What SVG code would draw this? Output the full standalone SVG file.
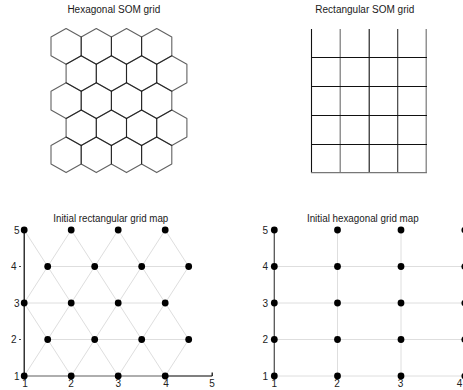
<svg xmlns="http://www.w3.org/2000/svg" xmlns:xlink="http://www.w3.org/1999/xlink" width="463" height="390" viewBox="0 0 463 390">
<style>
  .title { font-family: "Liberation Sans", Arial, sans-serif; font-size: 10px; fill: #1a1a1a; text-anchor: middle; }
  .tick { font-family: "Liberation Sans", Arial, sans-serif; font-size: 10px; fill: #222; }
  .xl { text-anchor: middle; }
  .yl { text-anchor: end; }
  .hex { fill: none; stroke: #000; stroke-opacity: 0.62; stroke-width: 1.1; stroke-linejoin: round; }
  .gk { stroke: #111; stroke-width: 1.1; }
  .gg { stroke: #777; stroke-width: 1.2; }
  .nb { fill: none; stroke: #dedede; stroke-width: 1; }
  .ax { stroke: #000; stroke-width: 1.2; fill: none; }
  .dot { fill: #000; }
</style>
<defs>
  <polygon id="hx" points="0,0 15.1,8.5 15.1,27.1 0,35.6 -15.1,27.1 -15.1,8.5"/>
  <circle id="d" r="3.4"/>
</defs>
<rect width="463" height="390" fill="#fff"/>

<!-- Hexagonal SOM grid -->
<g id="hexagonal-som-grid">
  <text class="title" x="113.8" y="12.8">Hexagonal SOM grid</text>
  <g class="hex">
    <use xlink:href="#hx" x="66.1" y="28.6"/><use xlink:href="#hx" x="96.3" y="28.6"/><use xlink:href="#hx" x="126.5" y="28.6"/><use xlink:href="#hx" x="156.7" y="28.6"/>
    <use xlink:href="#hx" x="81.2" y="55.7"/><use xlink:href="#hx" x="111.4" y="55.7"/><use xlink:href="#hx" x="141.6" y="55.7"/><use xlink:href="#hx" x="171.8" y="55.7"/>
    <use xlink:href="#hx" x="66.1" y="82.8"/><use xlink:href="#hx" x="96.3" y="82.8"/><use xlink:href="#hx" x="126.5" y="82.8"/><use xlink:href="#hx" x="156.7" y="82.8"/>
    <use xlink:href="#hx" x="81.2" y="109.9"/><use xlink:href="#hx" x="111.4" y="109.9"/><use xlink:href="#hx" x="141.6" y="109.9"/><use xlink:href="#hx" x="171.8" y="109.9"/>
    <use xlink:href="#hx" x="66.1" y="137"/><use xlink:href="#hx" x="96.3" y="137"/><use xlink:href="#hx" x="126.5" y="137"/><use xlink:href="#hx" x="156.7" y="137"/>
  </g>
</g>

<!-- Rectangular SOM grid -->
<g id="rectangular-som-grid">
  <text class="title" x="364.8" y="12.8">Rectangular SOM grid</text>
  <line class="gk" x1="311.5" y1="29" x2="311.5" y2="173"/>
  <line class="gg" x1="340.2" y1="29" x2="340.2" y2="173"/>
  <line class="gk" x1="369.2" y1="29" x2="369.2" y2="173"/>
  <line class="gk" x1="397.7" y1="29" x2="397.7" y2="173" style="stroke:#333"/>
  <line class="gg" x1="426.2" y1="29" x2="426.2" y2="173"/>
  <line class="gk" x1="311" y1="57.5" x2="427" y2="57.5"/>
  <line class="gk" x1="311" y1="86.5" x2="427" y2="86.5"/>
  <line class="gk" x1="311" y1="115.5" x2="427" y2="115.5"/>
  <line class="gk" x1="311" y1="144.5" x2="427" y2="144.5"/>
  <line class="gg" x1="311" y1="172.6" x2="427" y2="172.6"/>
</g>

<!-- Initial rectangular grid map -->
<g id="initial-rectangular-grid-map">
  <text class="title" x="110.8" y="222" textLength="115" lengthAdjust="spacingAndGlyphs">Initial rectangular grid map</text>
  <g id="rect-map-axes">
    <line class="ax" x1="24.2" y1="230" x2="24.2" y2="377"/>
    <line class="ax" x1="24.2" y1="376" x2="212.2" y2="376"/>
    <line class="ax" x1="212.2" y1="376" x2="212.2" y2="372.5"/>
    <line x1="19" y1="266.5" x2="21" y2="266.5" stroke="#444" stroke-width="1"/>
    <line x1="19" y1="339.5" x2="21" y2="339.5" stroke="#444" stroke-width="1"/>
    <g class="tick yl">
      <text x="19.5" y="233.6">5</text>
      <text x="16.5" y="270.1">4</text>
      <text x="19.5" y="306.6">3</text>
      <text x="16.5" y="343.1">2</text>
      <text x="19.5" y="379.6">1</text>
    </g>
    <g class="tick xl">
      <text x="25" y="387">1</text>
      <text x="71" y="387">2</text>
      <text x="118.3" y="387">3</text>
      <text x="166" y="387">4</text>
      <text x="212" y="387">5</text>
    </g>
  </g>
  <g id="rect-map-connectors" class="nb">
    <line x1="24.2" y1="376" x2="165.2" y2="376"/>
    <line x1="47.7" y1="339.5" x2="188.7" y2="339.5"/>
    <line x1="24.2" y1="303" x2="165.2" y2="303"/>
    <line x1="47.7" y1="266.5" x2="188.7" y2="266.5"/>
    <polyline points="24.2,376 47.7,339.5 71.2,376 94.7,339.5 118.2,376 141.7,339.5 165.2,376 188.7,339.5"/>
    <polyline points="24.2,303 47.7,339.5 71.2,303 94.7,339.5 118.2,303 141.7,339.5 165.2,303 188.7,339.5"/>
    <polyline points="24.2,303 47.7,266.5 71.2,303 94.7,266.5 118.2,303 141.7,266.5 165.2,303 188.7,266.5"/>
    <polyline points="24.2,230 47.7,266.5 71.2,230 94.7,266.5 118.2,230 141.7,266.5 165.2,230 188.7,266.5"/>
  </g>
  <g id="rect-map-nodes" class="dot">
    <use xlink:href="#d" x="24.2" y="230"/><use xlink:href="#d" x="71.2" y="230"/><use xlink:href="#d" x="118.2" y="230"/><use xlink:href="#d" x="165.2" y="230"/>
    <use xlink:href="#d" x="47.7" y="266.5"/><use xlink:href="#d" x="94.7" y="266.5"/><use xlink:href="#d" x="141.7" y="266.5"/><use xlink:href="#d" x="188.7" y="266.5"/>
    <use xlink:href="#d" x="24.2" y="303"/><use xlink:href="#d" x="71.2" y="303"/><use xlink:href="#d" x="118.2" y="303"/><use xlink:href="#d" x="165.2" y="303"/>
    <use xlink:href="#d" x="47.7" y="339.5"/><use xlink:href="#d" x="94.7" y="339.5"/><use xlink:href="#d" x="141.7" y="339.5"/><use xlink:href="#d" x="188.7" y="339.5"/>
    <use xlink:href="#d" x="24.2" y="376"/><use xlink:href="#d" x="71.2" y="376"/><use xlink:href="#d" x="118.2" y="376"/><use xlink:href="#d" x="165.2" y="376"/>
  </g>
</g>

<!-- Initial hexagonal grid map -->
<g id="initial-hexagonal-grid-map">
  <text class="title" x="362.8" y="222" textLength="111.7" lengthAdjust="spacingAndGlyphs">Initial hexagonal grid map</text>
  <g id="hex-map-axes">
    <g class="tick yl">
      <text x="268" y="233.6">5</text>
      <text x="268" y="270.1">4</text>
      <text x="268" y="306.6">3</text>
      <text x="268" y="343.1">2</text>
      <text x="268" y="379.6">1</text>
    </g>
    <g class="tick xl">
      <text x="274.3" y="387">1</text>
      <text x="337" y="387">2</text>
      <text x="400.5" y="387">3</text>
      <text x="459.6" y="387">4</text>
    </g>
  </g>
  <g id="hex-map-connectors">
    <g class="nb">
      <line x1="274.3" y1="376" x2="470" y2="376"/>
      <line x1="274.3" y1="339.5" x2="470" y2="339.5"/>
      <line x1="274.3" y1="303" x2="470" y2="303"/>
      <line x1="274.3" y1="266.5" x2="470" y2="266.5"/>
      <line x1="337.5" y1="230" x2="337.5" y2="376"/>
      <line x1="401" y1="230" x2="401" y2="376"/>
    </g>
    <line x1="274.3" y1="230" x2="274.3" y2="377" stroke="#555" stroke-width="1.3"/>
  </g>
  <g id="hex-map-nodes" class="dot">
    <use xlink:href="#d" x="274.3" y="230"/><use xlink:href="#d" x="337.5" y="230"/><use xlink:href="#d" x="401" y="230"/><use xlink:href="#d" x="464.8" y="230"/>
    <use xlink:href="#d" x="274.3" y="266.5"/><use xlink:href="#d" x="337.5" y="266.5"/><use xlink:href="#d" x="401" y="266.5"/><use xlink:href="#d" x="464.8" y="266.5"/>
    <use xlink:href="#d" x="274.3" y="303"/><use xlink:href="#d" x="337.5" y="303"/><use xlink:href="#d" x="401" y="303"/><use xlink:href="#d" x="464.8" y="303"/>
    <use xlink:href="#d" x="274.3" y="339.5"/><use xlink:href="#d" x="337.5" y="339.5"/><use xlink:href="#d" x="401" y="339.5"/><use xlink:href="#d" x="464.8" y="339.5"/>
    <use xlink:href="#d" x="274.3" y="376"/><use xlink:href="#d" x="337.5" y="376"/><use xlink:href="#d" x="401" y="376"/><use xlink:href="#d" x="464.8" y="376"/>
  </g>
</g>
</svg>
